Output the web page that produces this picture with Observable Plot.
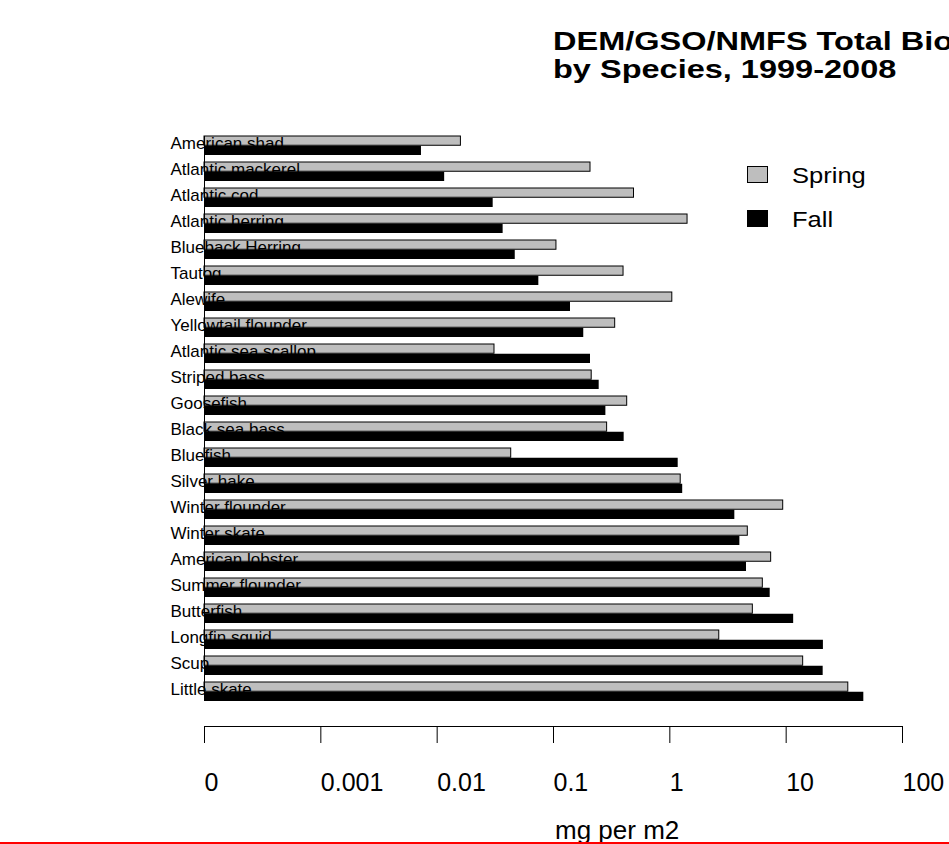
<!DOCTYPE html>
<html>
<head>
<meta charset="utf-8">
<script src="https://cdn.jsdelivr.net/npm/d3@7"></script>
<script src="https://cdn.jsdelivr.net/npm/@observablehq/plot@0.6"></script>
<style>
  html, body { margin: 0; padding: 0; background: #fff; }
  #wrap { position: relative; width: 949px; height: 844px; overflow: hidden; background: #fff;
          font-family: "Liberation Sans", Arial, Helvetica, sans-serif; color: #000; }
  #chart { position: absolute; left: 0; top: 0; }
  .title { position: absolute; left: 553px; top: 27px; font-weight: bold; font-size: 25px; line-height: 28px;
           white-space: nowrap; transform: scaleX(1.3); transform-origin: 0 0; }
  .xlab { position: absolute; left: 555px; top: 817px; font-size: 26px; line-height: 26px; white-space: nowrap; }
  .leg-box { position: absolute; left: 747px; width: 21px; height: 17px; box-sizing: border-box; border: 1px solid #000; }
  .leg-text { position: absolute; left: 792px; font-size: 22px; line-height: 22px; white-space: nowrap;
              transform: scaleX(1.16); transform-origin: 0 0; }
  .redline { position: absolute; left: 0; top: 842px; width: 949px; height: 2px; background: #ff0000; }
</style>
</head>
<body>
<div id="wrap">
  <div id="chart"></div>
  <div class="title" id="title"></div>
  <div class="xlab" id="xlab"></div>
  <div id="legend"></div>
  <div class="redline"></div>
</div>
<script>
// ---- data ----
const species = [
  "American shad", "Atlantic mackerel", "Atlantic cod", "Atlantic herring", "Blueback Herring",
  "Tautog", "Alewife", "Yellowtail flounder", "Atlantic sea scallop", "Striped bass",
  "Goosefish", "Black sea bass", "Bluefish", "Silver hake", "Winter flounder",
  "Winter skate", "American lobster", "Summer flounder", "Butterfish", "Longfin squid",
  "Scup", "Little skate"
];
const spring = [
  0.0160, 0.208, 0.492, 1.42, 0.106,
  0.400, 1.05, 0.339, 0.0311, 0.213,
  0.430, 0.289, 0.0433, 1.24, 9.43,
  4.68, 7.43, 6.30, 5.17, 2.66,
  14.0, 34.2
];
const fall = [
  0.00733, 0.0116, 0.0303, 0.0369, 0.0469,
  0.0748, 0.140, 0.182, 0.208, 0.247,
  0.282, 0.405, 1.18, 1.29, 3.62,
  4.00, 4.56, 7.29, 11.6, 20.9,
  20.8, 46.5
];
const seasons = ["Spring", "Fall"];
const seasonColors = ["#bebebe", "#000000"];
const tickValues = [0.0001, 0.001, 0.01, 0.1, 1, 10, 100];
const tickLabels = ["0", "0.001", "0.01", "0.1", "1", "10", "100"];
const titleLines = ["DEM/GSO/NMFS Total Biomass", "by Species, 1999-2008"];
const xLabel = "mg per m2";

// ---- build ----
const rows = species.map((s, i) => ({species: s, spring: spring[i], fall: fall[i]}));
const xMin = tickValues[0];
const tickMap = new Map(tickValues.map((v, i) => [v, tickLabels[i]]));
const font = '"Liberation Sans", Arial, Helvetica, sans-serif';

const chart = Plot.plot({
  width: 949,
  height: 844,
  marginLeft: 204,
  marginRight: 47,
  marginTop: 0,
  marginBottom: 118,
  style: {fontFamily: font, background: "transparent", color: "#000", overflow: "visible"},
  x: {type: "log", domain: [tickValues[0], tickValues[tickValues.length - 1]]},
  y: {type: "band", domain: species, range: [125.44, 712.4], padding: 0.26},
  marks: [
    Plot.barX(rows, {y: "species", x1: () => xMin, x2: "spring", fill: seasonColors[0],
                     stroke: "#000", strokeWidth: 1, insetBottom: 9.75}),
    Plot.barX(rows, {y: "species", x1: () => xMin, x2: "fall", fill: seasonColors[1],
                     insetTop: 9.75}),
    Plot.ruleX([xMin], {y1: () => species[0], y2: () => species[species.length - 1], stroke: "#000"}),
    Plot.axisY({anchor: "left", tickSize: 0, tickPadding: 34, textAnchor: "start",
                fontSize: 17, dy: -2.4, label: null, fill: "#000"}),
    Plot.frame({anchor: "bottom", stroke: "#000"}),
    Plot.axisX({ticks: tickValues, tickFormat: (d) => tickMap.get(d), tickSize: 17, tickPadding: 30,
                textAnchor: "start", fontSize: 25, label: null, stroke: "#000", fill: "#000"})
  ]
});
document.getElementById("chart").appendChild(chart);

// title
document.getElementById("title").innerHTML = titleLines.map(t => `<div>${t}</div>`).join("");
document.getElementById("xlab").textContent = xLabel;

// legend
const legend = document.getElementById("legend");
const boxTops = [166, 210];
const textTops = [165, 209];
seasons.forEach((s, i) => {
  const b = document.createElement("div");
  b.className = "leg-box";
  b.style.top = boxTops[i] + "px";
  b.style.background = seasonColors[i];
  legend.appendChild(b);
  const t = document.createElement("div");
  t.className = "leg-text";
  t.style.top = textTops[i] + "px";
  t.textContent = s;
  legend.appendChild(t);
});
</script>
</body>
</html>
